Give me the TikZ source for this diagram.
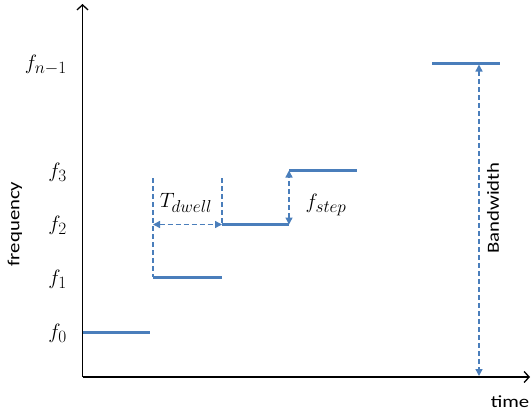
\documentclass[tikz,border=0pt]{standalone}
\usepackage{fontspec}
\setmainfont{Carlito}[FakeStretch=1.22]
\usetikzlibrary{arrows.meta}
\DeclareMathSizes{21}{21}{17}{13}
\definecolor{stepblue}{RGB}{74,126,187}
\begin{document}
\begin{tikzpicture}[x=1pt,y=-1pt,
  axis/.style={line width=1.3pt,black,-{Straight Barb[length=5pt,width=11pt,line width=1.3pt]}},
  level/.style={line width=3pt,stepblue},
  guide/.style={line width=1.4pt,stepblue,dash pattern=on 5pt off 3pt},
  dim/.style={guide,{Triangle[length=7pt,width=7pt]}-{Triangle[length=7pt,width=7pt]}},
  flabel/.style={anchor=east,inner sep=0pt,font=\fontsize{21}{25}\selectfont},
  mlabel/.style={inner sep=0pt,font=\fontsize{21}{25}\selectfont},
  tlabel/.style={inner sep=0pt,font=\fontsize{17}{20}\selectfont}]
\useasboundingbox (0,0) rectangle (532,412);
% axes
\coordinate (O) at (82.5,377);
\coordinate (ytop) at (82.5,4);
\coordinate (xend) at (530,377);
\draw[axis] (O) -- (ytop);
\draw[axis] (O) -- (xend);
% levels
\coordinate (a0) at (82.5,332); \coordinate (b0) at (150,332);
\coordinate (a1) at (153,277); \coordinate (b1) at (222,277);
\coordinate (a2) at (222,224.5); \coordinate (b2) at (289,224.5);
\coordinate (a3) at (289,170.5); \coordinate (b3) at (357,170.5);
\coordinate (an) at (432,63); \coordinate (bn) at (500,63);
\draw[level] (a0) -- (b0);
\draw[level] (a1) -- (b1);
\draw[level] (a2) -- (b2);
\draw[level] (a3) -- (b3);
\draw[level] (an) -- (bn);
% guides
\coordinate (g1) at (153,178); \coordinate (g2) at (222,178);
\draw[guide] (g1) -- (a1);
\draw[guide] (g2) -- (b1 |- a2);
\draw[dim] (153,224.5) -- (a2);
\draw[dim] (b2) -- (a3);
\coordinate (bwtop) at (479,64.5); \coordinate (bwbot) at (479,376);
\draw[dim] (bwtop) -- (bwbot);
% labels
\node[flabel] (lfn) at (67,65) {$f_{n-1}$};
\node[flabel] (lf3) at (67,172) {$f_3$};
\node[flabel] (lf2) at (67,225) {$f_2$};
\node[flabel] (lf1) at (67,279) {$f_1$};
\node[flabel] (lf0) at (67,333) {$f_0$};
\node[mlabel] (ltd) at (186,203) {$T_{dwell}$};
\node[mlabel] (lfs) at (326,205) {$f_{step}$};
\node[tlabel,rotate=90] (lbw) at (493,208) {Bandwidth};
\node[tlabel,rotate=90] (lfreq) at (15,224) {frequency};
\node[tlabel,anchor=base] (ltime) at (510,407) {time};
\end{tikzpicture}
\end{document}
